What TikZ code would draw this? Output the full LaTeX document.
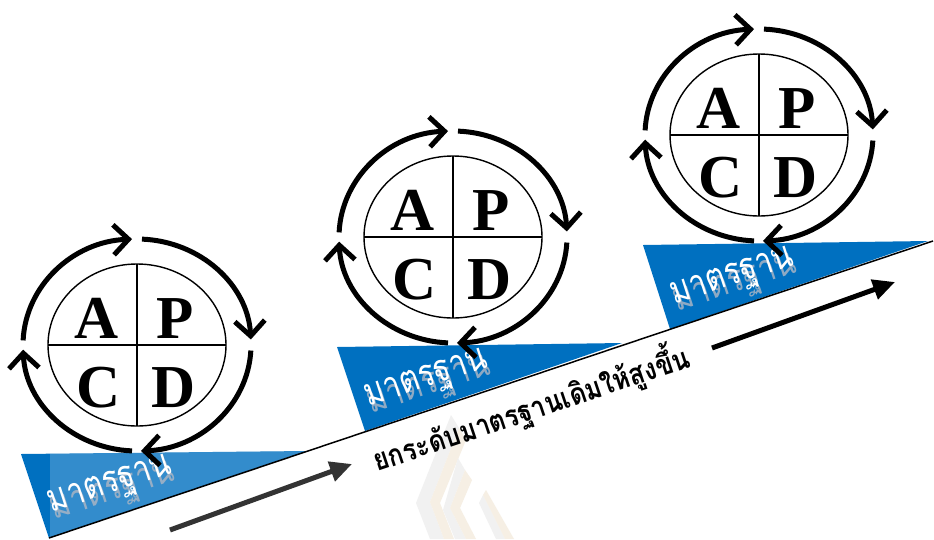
\documentclass[tikz,border=0pt]{standalone}
\usepackage{fontspec}
\usetikzlibrary{arrows.meta}
\setmainfont{Liberation Serif}
\newfontfamily\thaistd[Script=Thai,FakeStretch=0.8]{Loma}
\newfontfamily\thaicap[Script=Thai,FakeStretch=0.85]{Loma}
\definecolor{stdblue}{HTML}{0070C0}
\definecolor{shadowgray}{HTML}{A8B4C4}
\definecolor{wmgray}{HTML}{F1F1F1}
\definecolor{wmgold}{HTML}{F6EFE4}
\tikzset{
  pdcaring/.style={line width=5pt, -{Straight Barb[length=15pt,width=30pt]}},
  pdcainner/.style={line width=1.4pt},
  pdcaletter/.style={font=\fontsize{61}{61}\selectfont\bfseries, anchor=base, inner sep=0pt},
  stdtext/.style={font=\thaistd\fontsize{38}{38}\selectfont, text=white, rotate=18, inner sep=0pt},
  stdshadow/.style={font=\thaistd\fontsize{38}{38}\selectfont, text=shadowgray, opacity=0.85, rotate=18, inner sep=0pt},
  captiontext/.style={font=\thaicap\bfseries\fontsize{30}{30}\selectfont, text=black, rotate=18.5, inner sep=0pt},
  bigarrow/.style={line width=5pt, -{Triangle[length=22pt,width=20pt]}},
}
\newcommand\pdca[3]{%
  \coordinate (#1) at (#2,-#3);
  \draw[pdcainner] (#1) ellipse [x radius=89pt, y radius=81pt];
  \draw[pdcainner] ([xshift=-89pt]#1) -- ([xshift=89pt]#1);
  \draw[pdcainner] ([yshift=81pt]#1) -- ([yshift=-81pt]#1);
  \node[pdcaletter] (#1A) at ([xshift=-40pt,yshift=7pt]#1) {A};
  \node[pdcaletter] (#1P) at ([xshift=38pt,yshift=7pt]#1) {P};
  \node[pdcaletter] (#1C) at ([xshift=-38pt,yshift=-62pt]#1) {C};
  \node[pdcaletter] (#1D) at ([xshift=37pt,yshift=-62pt]#1) {D};
  \draw[pdcaring] (#1) ++(177.5:114pt and 106pt) arc[start angle=177.5, end angle=92.5, x radius=114pt, y radius=106pt];
  \draw[pdcaring] (#1) ++(87.5:114pt and 106pt) arc[start angle=87.5, end angle=3, x radius=114pt, y radius=106pt];
  \draw[pdcaring] (#1) ++(-3:114pt and 106pt) arc[start angle=-3, end angle=-88, x radius=114pt, y radius=106pt];
  \draw[pdcaring] (#1) ++(-92.5:114pt and 106pt) arc[start angle=-92.5, end angle=-177.5, x radius=114pt, y radius=106pt];
}
\begin{document}
\begin{tikzpicture}[x=1pt,y=1pt]
\fill[white] (0,0) rectangle (934,-539);
\useasboundingbox (0,0) rectangle (934,-539);
% faint watermark
\fill[wmgray] (451,-415) -- (459,-428) -- (430,-502) -- (444,-539) -- (430,-539) -- (416,-503) -- cycle;
\fill[wmgold] (459,-428) -- (466,-440) -- (440,-503) -- (454,-539) -- (444,-539) -- (430,-502) -- cycle;
\fill[wmgray] (458,-458) -- (465,-470) -- (450,-508) -- (466,-539) -- (455,-539) -- (443,-510) -- cycle;
\fill[wmgold] (465,-470) -- (472,-480) -- (460,-508) -- (476,-539) -- (466,-539) -- (450,-508) -- cycle;
\fill[wmgray] (483,-495) -- (505,-539) -- (496,-539) -- (479,-503) -- cycle;
\fill[wmgold] (486,-490) -- (514,-539) -- (505,-539) -- (483,-495) -- cycle;
% wedges
\fill[stdblue] (21,-454) -- (307,-451) -- (49,-538) -- cycle;
\begin{scope}
  \clip (50,-440) rectangle (320,-540);
  \fill[white, opacity=0.2] (21,-454) -- (307,-451) -- (49,-538) -- cycle;
\end{scope}
\fill[stdblue] (337,-347) -- (622,-343) -- (365,-431) -- cycle;
\fill[stdblue] (643,-245) -- (928,-241) -- (670,-329) -- cycle;
% main slope line
\coordinate (slopeS) at (49,-538);
\coordinate (slopeE) at (933,-241);
\draw[line width=1.5pt] (slopeS) -- (slopeE);
% wedge labels
\node[stdshadow] (sh1) at (114,-494) {มาตรฐาน};
\node[stdtext] (st1) at (111,-487) {มาตรฐาน};
\node[stdshadow] (sh2) at (430,-388) {มาตรฐาน};
\node[stdtext] (st2) at (427,-381) {มาตรฐาน};
\node[stdshadow] (sh3) at (736,-286) {มาตรฐาน};
\node[stdtext] (st3) at (733,-279) {มาตรฐาน};
% pdca circles
\pdca{c1}{137}{345}
\pdca{c2}{453}{237}
\pdca{c3}{759}{135}
% caption
\node[captiontext] (cap) at (531,-408) {ยกระดับมาตรฐานเดิมให้สูงขึ้น};
% arrows
\coordinate (a1s) at (170,-530);
\coordinate (a1e) at (352,-464);
\draw[bigarrow, black!80] (a1s) -- (a1e);
\coordinate (a2s) at (712,-348);
\coordinate (a2e) at (895,-282);
\draw[bigarrow, black] (a2s) -- (a2e);
\end{tikzpicture}
\end{document}
